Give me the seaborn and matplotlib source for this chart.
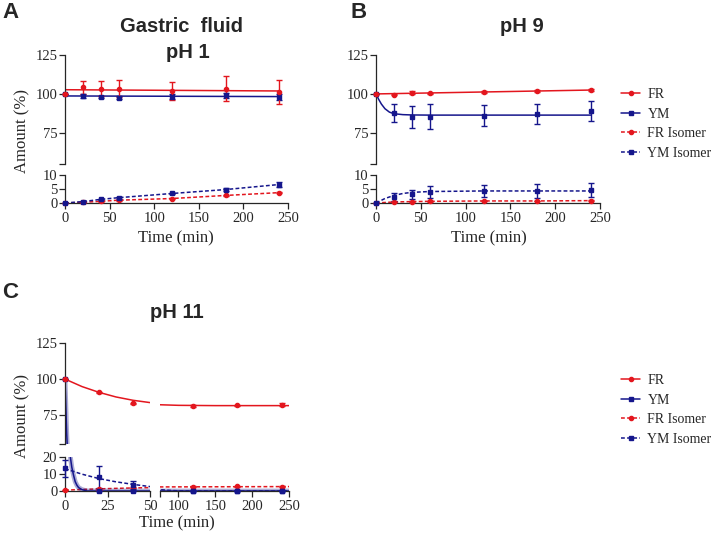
import numpy as np
import matplotlib
matplotlib.use("Agg")
import matplotlib.pyplot as plt
from matplotlib.lines import Line2D
import seaborn as sns

# ---- data ----
t = [0, 20, 40, 60, 120, 180, 240]

# A: gastric fluid pH 1
a_fr = [100, 104.2, 103.4, 103.4, 101.7, 103.4, 101.3]
a_fr_err = [0, 4.2, 4.6, 5.5, 5.9, 8.0, 7.8]
a_ym = [100, 98.6, 98.0, 97.6, 98.2, 99.0, 98.0]
a_ym_err = [0, 1.2, 0.8, 0.8, 1.6, 1.6, 2.2]
a_fr_iso = [0, 0.25, 0.6, 1.0, 1.6, 2.7, 3.7]
a_fr_iso_err = [0, 0.1, 0.1, 0.2, 0.2, 0.3, 0.3]
a_ym_iso = [0, 0.5, 1.3, 1.9, 3.4, 4.8, 6.6]
a_ym_iso_err = [0, 0.2, 0.3, 0.3, 0.3, 0.4, 0.8]
a_fit_t = [0, 240]
a_fr_fit = [102.7, 101.9]
a_ym_fit = [98.7, 98.3]

# B: pH 9
b_fr = [100, 99.6, 100.8, 100.4, 101.5, 101.9, 102.8]
b_fr_err = [0, 0.4, 0.8, 0.5, 0.6, 0.4, 0.6]
b_ym = [100, 87.9, 85.3, 85.3, 86.0, 87.2, 89.0]
b_ym_err = [0, 5.7, 7.0, 8.0, 6.8, 6.4, 6.7]
b_fr_iso = [0, 0.37, 0.5, 0.6, 0.73, 0.73, 0.85]
b_fr_iso_err = [0, 0.1, 0.1, 0.1, 0.1, 0.1, 0.1]
b_ym_iso = [0, 2.2, 3.2, 3.9, 4.3, 4.3, 4.6]
b_ym_iso_err = [0, 1.4, 1.6, 2.1, 2.1, 2.4, 2.6]
b_fr_fit_t = [0, 240]
b_fr_fit = [100, 102.5]
b_ym_fit_t = [0, 3, 6, 10, 15, 20, 30, 40, 60, 240]
b_ym_fit = [100, 96.5, 93.5, 90.5, 88.3, 87.3, 86.7, 86.5, 86.4, 86.4]
b_ym_iso_fit_t = [0, 10, 20, 30, 40, 60, 120, 240]
b_ym_iso_fit = [0, 1.6, 2.7, 3.4, 3.8, 4.1, 4.3, 4.3]

# C: pH 11
t_c = [0, 20, 40, 120, 180, 240]
c_fr = [100, 90.7, 83.2, 81.4, 81.8, 82.3]
c_fr_err = [0, 0.5, 0.5, 0.5, 0.5, 1.0]
c_ym = [100, 0, 0, 0, 0, 0]
c_ym_err = [0, 0, 0, 0, 0, 0]
c_fr_iso = [0.5, 1.0, 2.0, 2.5, 2.7, 2.5]
c_fr_iso_err = [0, 0.2, 0.2, 0.2, 0.2, 0.2]
c_ym_iso = [13.4, 8.4, 3.4, 0, 0, 0]
c_ym_iso_err = [5.0, 6.5, 2.5, 0, 0, 0]
c_fr_fit_t = [0, 10, 20, 30, 40, 50, 75, 100, 150, 200, 250]
c_fr_fit = [100, 94.8, 90.8, 87.6, 85.3, 83.7, 82.2, 81.8, 81.6, 81.6, 81.6]
c_ym_fit_t = [0, 1, 2, 3, 4, 5, 6, 7, 8, 10, 13, 20, 50, 75, 250]
c_ym_fit = [100, 62, 38, 21, 14, 9.4, 5.5, 3.4, 2.0, 0.8, 0, 0, 0, 0, 0]
c_ym_iso_fit_t = [0, 10, 20, 30, 40, 50, 75, 90, 100, 120, 250]
c_ym_iso_fit = [13.1, 9.9, 7.3, 5.4, 3.9, 2.6, 0.8, 0.3, 0.1, 0, 0]
c_fr_iso_fit_t = [0, 10, 20, 30, 40, 50, 75, 250]
c_fr_iso_fit = [0.5, 0.9, 1.25, 1.55, 1.8, 2.0, 2.4, 2.6]

labels = ["FR", "YM", "FR Isomer", "YM Isomer"]

RED = "#e3161e"
BLUE = "#15168c"
DASH = (0, (2.5, 1.5))

sns.set_style("ticks")
plt.rcParams["font.family"] = ["Liberation Serif", "DejaVu Serif"]
plt.rcParams["axes.linewidth"] = 0.9
for k in ["xtick.major.width", "ytick.major.width", "xtick.minor.width", "ytick.minor.width"]:
    plt.rcParams[k] = 0.9

fig = plt.figure(figsize=(7.15, 5.35), dpi=100)


def series(ax, x, y, err, fx, fy, color, marker, dashed, xlim, ylim, band=False):
    x = np.asarray(x, float)
    y = np.asarray(y, float)
    err = np.asarray(err, float)
    ls = DASH if dashed else "-"
    if band:
        sns.lineplot(x=fx, y=fy, ax=ax, color=color, lw=3.5, alpha=0.35,
                     legend=False)
    sns.lineplot(x=fx, y=fy, ax=ax, color=color, lw=1.1, linestyle=ls,
                 legend=False)
    ok = (x >= xlim[0]) & (x <= xlim[1]) & (y >= ylim[0] - 0.01) & (y <= ylim[1])
    if ok.any():
        ax.errorbar(x[ok], y[ok], yerr=err[ok], fmt=marker, ms=3, color=color,
                    capsize=2, elinewidth=1, capthick=1, clip_on=False, zorder=3)
    ax.set_xlim(xlim)
    ax.set_ylim(ylim)
    ax.set_xlabel("")
    ax.set_ylabel("")


def style(ax, left, bottom, yticks, ybreak=None, xticks=None, xbreak=None):
    for s in ["top", "right"]:
        ax.spines[s].set_visible(False)
    ax.spines["left"].set_visible(left)
    ax.spines["bottom"].set_visible(bottom)
    if left:
        ax.set_yticks(yticks)
        if ybreak is not None:
            ax.set_yticks([ybreak], minor=True)
    else:
        ax.set_yticks([])
    if bottom:
        ax.set_xticks(xticks)
        if xbreak is not None:
            ax.set_xticks([xbreak], minor=True)
    else:
        ax.set_xticks([])
    ax.tick_params(which="both", direction="out", length=4, labelsize=10.5)
    ax.tick_params(axis="x", pad=2.5)
    ax.tick_params(axis="y", pad=1.5)


def upper(ax, d, xlim, ylim):
    series(ax, d["t"], d["ym"], d["ym_err"], d["ym_ft"], d["ym_f"], BLUE, "s", False, xlim, ylim, d.get("band", False))
    series(ax, d["t"], d["fr"], d["fr_err"], d["fr_ft"], d["fr_f"], RED, "o", False, xlim, ylim)


def lower(ax, d, xlim, ylim):
    series(ax, d["t"], d["fr_iso"], d["fr_iso_err"], d["fri_ft"], d["fri_f"], RED, "o", True, xlim, ylim)
    series(ax, d["t"], d["ym_iso"], d["ym_iso_err"], d["ymi_ft"], d["ymi_f"], BLUE, "s", True, xlim, ylim)
    if d.get("band", False):
        series(ax, d["t"], d["ym"], d["ym_err"], d["ym_ft"], d["ym_f"], BLUE, "s", False, xlim, ylim, True)


A = dict(t=t, fr=a_fr, fr_err=a_fr_err, ym=a_ym, ym_err=a_ym_err,
         fr_ft=a_fit_t, fr_f=a_fr_fit, ym_ft=a_fit_t, ym_f=a_ym_fit,
         fr_iso=a_fr_iso, fr_iso_err=a_fr_iso_err, ym_iso=a_ym_iso, ym_iso_err=a_ym_iso_err,
         fri_ft=t, fri_f=a_fr_iso, ymi_ft=t, ymi_f=a_ym_iso)
B = dict(t=t, fr=b_fr, fr_err=b_fr_err, ym=b_ym, ym_err=b_ym_err,
         fr_ft=b_fr_fit_t, fr_f=b_fr_fit, ym_ft=b_ym_fit_t, ym_f=b_ym_fit,
         fr_iso=b_fr_iso, fr_iso_err=b_fr_iso_err, ym_iso=b_ym_iso, ym_iso_err=b_ym_iso_err,
         fri_ft=t, fri_f=b_fr_iso, ymi_ft=b_ym_iso_fit_t, ymi_f=b_ym_iso_fit)
C = dict(t=t_c, fr=c_fr, fr_err=c_fr_err, ym=c_ym, ym_err=c_ym_err,
         fr_ft=c_fr_fit_t, fr_f=c_fr_fit, ym_ft=c_ym_fit_t, ym_f=c_ym_fit,
         fr_iso=c_fr_iso, fr_iso_err=c_fr_iso_err, ym_iso=c_ym_iso, ym_iso_err=c_ym_iso_err,
         fri_ft=c_fr_iso_fit_t, fri_f=c_fr_iso_fit, ymi_ft=c_ym_iso_fit_t, ymi_f=c_ym_iso_fit,
         band=True)

W, H = 715, 535


def rect(x0, x1, ytop, ybot):
    return [x0 / W, 1 - ybot / H, (x1 - x0) / W, (ybot - ytop) / H]


# panels A and B
for d, x0, x1 in [(A, 65, 288), (B, 376, 600)]:
    au = fig.add_axes(rect(x0, x1, 55, 164))
    upper(au, d, (0, 250), (55, 125))
    style(au, True, False, [75, 100, 125], ybreak=55)
    al = fig.add_axes(rect(x0, x1, 175, 203))
    lower(al, d, (0, 250), (0, 10))
    style(al, True, True, [0, 5, 10], xticks=[0, 50, 100, 150, 200, 250])

# panel C with broken axes
cul = fig.add_axes(rect(65, 150, 343, 444))
upper(cul, C, (0, 50), (55, 125))
style(cul, True, False, [75, 100, 125], ybreak=55)
cur = fig.add_axes(rect(160, 289, 343, 444))
upper(cur, C, (75, 250), (55, 125))
style(cur, False, False, [])
cll = fig.add_axes(rect(65, 150, 457, 491))
lower(cll, C, (0, 50), (0, 20))
style(cll, True, True, [0, 10, 20], xticks=[0, 25, 50])
clr = fig.add_axes(rect(160, 289, 457, 491))
lower(clr, C, (75, 250), (0, 20))
style(clr, False, True, [], xticks=[100, 150, 200, 250], xbreak=75)

# legends
handles = [
    Line2D([], [], color=RED, marker="o", ms=3, lw=1.1),
    Line2D([], [], color=BLUE, marker="s", ms=3, lw=1.1),
    Line2D([], [], color=RED, marker="o", ms=3, lw=1.1, ls=DASH),
    Line2D([], [], color=BLUE, marker="s", ms=3, lw=1.1, ls=DASH),
]
for ytop in [88, 374]:
    fig.legend(handles, labels, loc="upper left", bbox_to_anchor=(621 / W, 1 - ytop / H),
               frameon=False, fontsize=10, handlelength=1.4, handletextpad=0.5,
               labelspacing=0.47, borderpad=0, borderaxespad=0)

# titles, labels, panel letters
tfont = dict(family=["Liberation Sans", "DejaVu Sans"], weight="bold", fontsize=14.5)
fig.text(182 / W, 1 - 27 / H, "Gastric  fluid", ha="center", va="center", **tfont)
fig.text(188 / W, 1 - 52 / H, "pH 1", ha="center", va="center", **tfont)
fig.text(522 / W, 1 - 27 / H, "pH 9", ha="center", va="center", **tfont)
fig.text(177 / W, 1 - 313 / H, "pH 11", ha="center", va="center", **tfont)

lfont = dict(family=["Liberation Sans", "DejaVu Sans"], weight="bold", fontsize=16)
fig.text(2 / W, 1 - 12 / H, "A", ha="left", va="center", **lfont)
fig.text(350 / W, 1 - 12 / H, "B", ha="left", va="center", **lfont)
fig.text(2 / W, 1 - 293 / H, "C", ha="left", va="center", **lfont)

fig.text(22 / W, 1 - 131 / H, "Amount (%)", rotation=90, ha="center", va="center", fontsize=12)
fig.text(22 / W, 1 - 416 / H, "Amount (%)", rotation=90, ha="center", va="center", fontsize=12)
fig.text(176 / W, 1 - 238 / H, "Time (min)", ha="center", va="center", fontsize=12)
fig.text(489 / W, 1 - 238 / H, "Time (min)", ha="center", va="center", fontsize=12)
fig.text(177 / W, 1 - 523 / H, "Time (min)", ha="center", va="center", fontsize=12)

fig.savefig("out.png", dpi=100)
